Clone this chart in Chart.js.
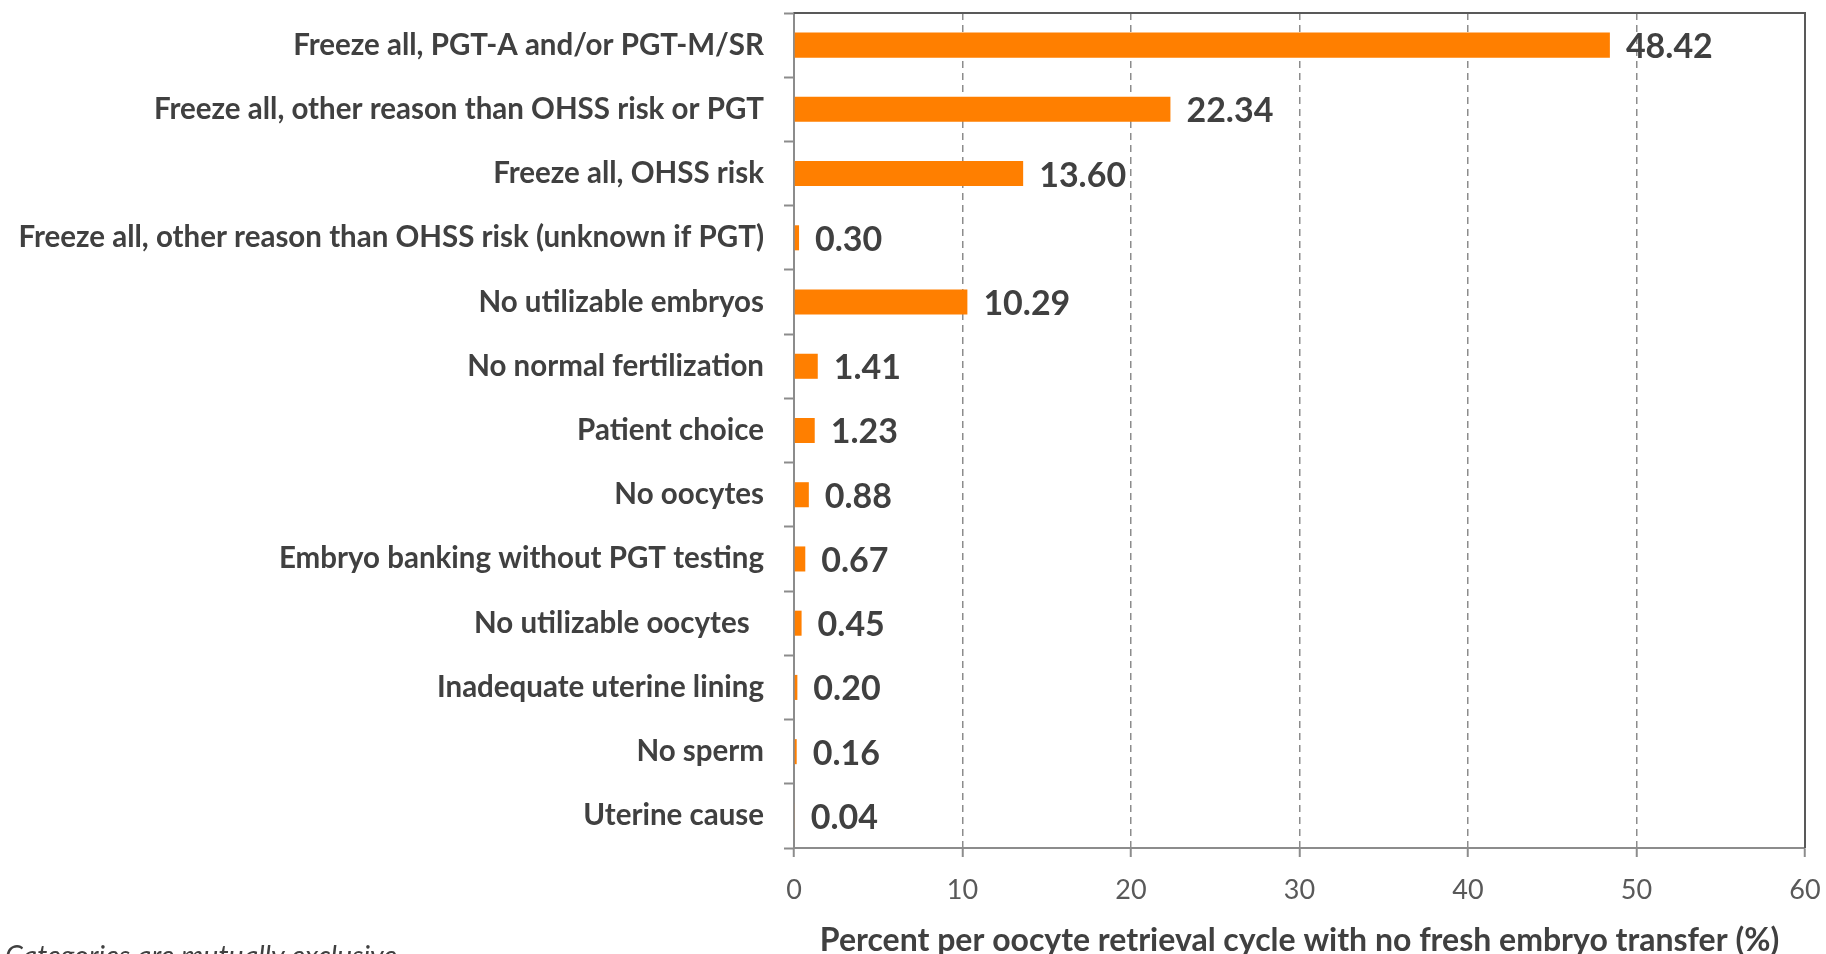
<!DOCTYPE html>
<html>
<head>
<meta charset="utf-8">
<script src="https://cdn.jsdelivr.net/npm/chart.js@4"></script>
<style>
html,body{margin:0;padding:0;background:#fff;}
canvas{display:block;}
</style>
</head>
<body>
<canvas id="c" width="1826" height="954"></canvas>
<script>
const categories = [
  "Freeze all, PGT-A and/or PGT-M/SR",
  "Freeze all, other reason than OHSS risk or PGT",
  "Freeze all, OHSS risk",
  "Freeze all, other reason than OHSS risk (unknown if PGT)",
  "No utilizable embryos",
  "No normal fertilization",
  "Patient choice",
  "No oocytes",
  "Embryo banking without PGT testing",
  "No utilizable oocytes  ",
  "Inadequate uterine lining",
  "No sperm",
  "Uterine cause"
];
const values = [48.42, 22.34, 13.60, 0.30, 10.29, 1.41, 1.23, 0.88, 0.67, 0.45, 0.20, 0.16, 0.04];
const xTicks = [0, 10, 20, 30, 40, 50, 60];
const xTitle = "Percent per oocyte retrieval cycle with no fresh embryo transfer (%)";
const footnote = "Categories are mutually exclusive";

const TEXT = '#404040';
const FONT = 'Lato, "Open Sans", sans-serif';

const valueLabels = {
  id: 'valueLabels',
  afterDatasetsDraw(chart) {
    const ctx = chart.ctx;
    const meta = chart.getDatasetMeta(0);
    ctx.save();
    ctx.font = 'bold 34px ' + FONT;
    ctx.fillStyle = TEXT;
    ctx.textAlign = 'left';
    ctx.textBaseline = 'middle';
    meta.data.forEach((bar, i) => {
      ctx.fillText(values[i].toFixed(2), bar.x + 16, bar.y + 2);
    });
    ctx.restore();
  }
};

const frame = {
  id: 'frame',
  afterDraw(chart) {
    const {ctx, chartArea: a} = chart;
    ctx.save();
    ctx.strokeStyle = '#595959';
    ctx.lineWidth = 2;
    ctx.beginPath();
    ctx.moveTo(a.left, a.top);
    ctx.lineTo(a.right, a.top);
    ctx.lineTo(a.right, a.bottom);
    ctx.stroke();
    ctx.font = 'italic 28.5px ' + FONT;
    ctx.fillStyle = TEXT;
    ctx.textAlign = 'left';
    ctx.textBaseline = 'alphabetic';
    ctx.fillText(footnote, 5, 966);
    ctx.restore();
  }
};

new Chart(document.getElementById('c'), {
  type: 'bar',
  data: {
    labels: categories,
    datasets: [{
      data: values,
      backgroundColor: '#FF7F00',
      borderWidth: 0,
      barPercentage: 0.39,
      categoryPercentage: 1.0
    }]
  },
  options: {
    indexAxis: 'y',
    responsive: false,
    animation: false,
    layout: { padding: { top: 13, right: 21, left: 0, bottom: 0 } },
    plugins: { legend: { display: false }, tooltip: { enabled: false } },
    scales: {
      x: {
        min: 0, max: 60,
        afterBuildTicks(scale) { scale.ticks = xTicks.map(v => ({ value: v })); },
        afterFit(scale) {
          scale.height = 106;
          scale.paddingLeft = 0; scale.paddingRight = 0;
        },
        grid: {
          color: '#8c8c8c', lineWidth: 1.5, drawTicks: true, tickLength: 9,
          tickColor: '#8c8c8c', tickWidth: 2, tickBorderDash: []
        },
        border: { display: true, color: '#8c8c8c', width: 2, dash: [7, 5] },
        ticks: { color: '#595959', font: { family: FONT, size: 27 }, padding: 17, maxRotation: 0 },
        title: {
          display: true, text: xTitle, color: TEXT,
          font: { family: FONT, size: 32, weight: 'bold', lineHeight: 1.0 }, padding: { top: 4, bottom: -3 }
        }
      },
      y: {
        afterFit(scale) {
          scale.width = 794;
          scale.paddingTop = 0; scale.paddingBottom = 0;
        },
        grid: {
          drawOnChartArea: false, drawTicks: true, tickLength: 10,
          tickColor: '#8c8c8c', tickWidth: 2
        },
        border: { display: true, color: '#8c8c8c', width: 2 },
        ticks: { color: TEXT, font: { family: FONT, size: 29.5, weight: 'bold' }, padding: 20, autoSkip: false }
      }
    }
  },
  plugins: [valueLabels, frame]
});
</script>
</body>
</html>
